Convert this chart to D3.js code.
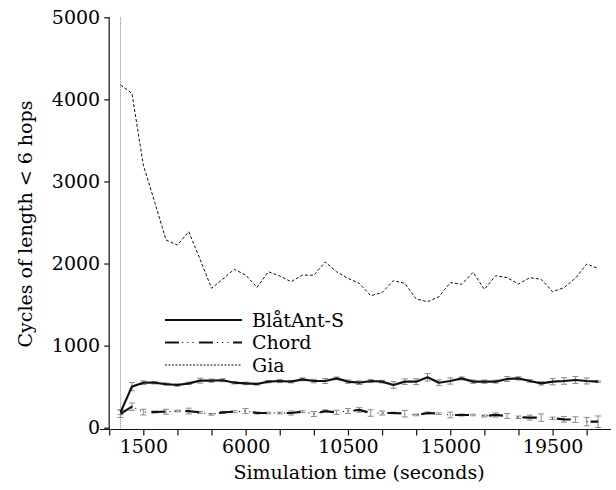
<!DOCTYPE html>
<html>
<head>
<meta charset="utf-8">
<script src="https://cdn.jsdelivr.net/npm/d3@7"></script>
<style>
  html, body { margin: 0; padding: 0; background: #fff; }
  svg { display: block; }
  text { font-family: "DejaVu Serif", serif; fill: #000; }
</style>
</head>
<body>
<svg id="chart" width="616" height="490"></svg>
<script>
// Simulation time (seconds), sampled every 500 s
const times = d3.range(500, 21501, 500);

// Cycles of length < 6 hops, per overlay
const blatantValues = [190, 500, 548, 548, 532, 520, 540, 573, 573, 578, 548, 540, 532, 561,
  569, 561, 589, 569, 569, 601, 561, 548, 569, 561, 520, 561, 561, 614, 548, 569, 601, 561,
  561, 561, 593, 601, 569, 540, 561, 569, 581, 569, 561];
const blatantErrors = [30, 50, 22, 15, 12, 15, 14, 30, 20, 18, 15, 15, 12, 14,
  20, 15, 18, 22, 30, 16, 20, 22, 20, 16, 40, 34, 35, 45, 35, 38, 18, 20,
  20, 18, 30, 20, 16, 20, 38, 40, 42, 36, 10];

const chordValues = [170, 256, 190, 191, 195, 203, 203, 187, 163, 187, 195, 203, 179, 179,
  179, 179, 195, 167, 203, 187, 203, 216, 179, 179, 179, 171, 155, 179, 171, 155, 155, 155,
  143, 155, 143, 127, 123, 123, 114, 102, 98, 73, 73];
const chordErrors = [45, 45, 35, 12, 30, 10, 35, 12, 10, 12, 12, 30, 12, 10,
  10, 25, 12, 30, 14, 25, 30, 28, 40, 25, 10, 40, 10, 12, 10, 35, 12, 10,
  12, 25, 30, 15, 30, 45, 15, 35, 35, 50, 70];

const giaValues = [4175, 4074, 3200, 2750, 2287, 2225, 2388, 2050, 1698, 1812, 1930, 1860,
  1710, 1900, 1848, 1779, 1860, 1857, 2019, 1900, 1820, 1759, 1608, 1645, 1791, 1759, 1568,
  1535, 1596, 1767, 1747, 1893, 1686, 1852, 1828, 1751, 1828, 1808, 1657, 1706, 1820, 1994, 1942];

const xTicks = d3.range(0, 21001, 1500);
const xLabelled = [1500, 6000, 10500, 15000, 19500];
const yTicks = [0, 1000, 2000, 3000, 4000, 5000];
const seriesNames = ["BlåtAnt-S", "Chord", "Gia"];
const startTime = 500;

const svg = d3.select("#chart");
const x = d3.scaleLinear().domain([0, 21000]).range([109.2, 586.7]);
const y = d3.scaleLinear().domain([0, 5000]).range([427.7, 17.3]);
const fontSize = 19;

// Vertical marker at the start of the measurements
svg.append("line")
  .attr("x1", x(startTime)).attr("x2", x(startTime))
  .attr("y1", y(5000)).attr("y2", y(0) + 2)
  .attr("stroke", "#777").attr("stroke-width", 1)
  .attr("stroke-dasharray", "1,1");

// Axes
const yAxis = svg.append("g")
  .attr("transform", `translate(${x(0)},0)`)
  .call(d3.axisLeft(y).tickValues(yTicks).tickSize(5).tickPadding(4).tickFormat(d3.format("d")));
yAxis.select(".domain").attr("d", `M0,${y(5000)}V${y(0) + 1.5}`).attr("stroke", "#111").attr("stroke-width", 1.2);
yAxis.selectAll(".tick line").attr("stroke", "#111").attr("stroke-width", 1.2);
yAxis.selectAll("text").style("font-size", fontSize + "px").attr("fill", "#000");

const axisY = 429.5;
const xAxis = svg.append("g")
  .attr("transform", `translate(0,${axisY})`)
  .call(d3.axisBottom(x).tickValues(xTicks).tickSize(6).tickPadding(4)
    .tickFormat(d => xLabelled.includes(d) ? d3.format("d")(d) : ""));
xAxis.select(".domain").attr("d", "M100,0H611").attr("stroke", "#111").attr("stroke-width", 1.2);
xAxis.selectAll(".tick line").attr("stroke", "#111").attr("stroke-width", 1.2);
xAxis.selectAll("text").style("font-size", fontSize + "px").attr("fill", "#000");

// Axis titles
svg.append("text")
  .attr("x", 359).attr("y", 479)
  .attr("text-anchor", "middle")
  .style("font-size", fontSize + "px")
  .text("Simulation time (seconds)");
svg.append("text")
  .attr("transform", "translate(32,224) rotate(-90)")
  .attr("text-anchor", "middle")
  .style("font-size", fontSize + "px")
  .text("Cycles of length < 6 hops");

const line = d3.line().x(d => x(d.t)).y(d => y(d.v));
const toPoints = (vals, errs) => vals.map((v, i) => ({ t: times[i], v, e: errs ? errs[i] : 0 }));

const blatant = toPoints(blatantValues, blatantErrors);
const chord = toPoints(chordValues, chordErrors);
const gia = toPoints(giaValues);

// Error bars
function errorBars(points, cls) {
  const g = svg.append("g").attr("class", cls)
    .attr("stroke", "#8a8a8a").attr("stroke-width", 1).attr("fill", "none");
  const cap = 3;
  g.selectAll("path").data(points).join("path")
    .attr("d", d => {
      const cx = x(d.t), y1 = y(d.v + d.e), y2 = y(d.v - d.e);
      return `M${cx},${y1}V${y2}M${cx - cap},${y1}H${cx + cap}M${cx - cap},${y2}H${cx + cap}`;
    });
}
errorBars(chord, "chord-err");
errorBars(blatant, "blatant-err");

// Gia: thin dashed
svg.append("path").datum(gia).attr("d", line)
  .attr("fill", "none").attr("stroke", "#111").attr("stroke-width", 1)
  .attr("stroke-dasharray", "3,2");

// Chord: thick dash followed by thin dots
function chordStroke(sel) {
  sel.append("path").attr("fill", "none").attr("stroke", "#111").attr("stroke-width", 2.2)
    .attr("stroke-dasharray", "14,20");
  sel.append("path").attr("fill", "none").attr("stroke", "#111").attr("stroke-width", 1)
    .attr("stroke-dasharray", "0,17,1.2,4,1.2,4,1.2,6.4");
}
const chordG = svg.append("g");
chordStroke(chordG);
chordG.selectAll("path").datum(chord).attr("d", line);

// BlåtAnt-S: solid
svg.append("path").datum(blatant).attr("d", line)
  .attr("fill", "none").attr("stroke", "#111").attr("stroke-width", 2.2)
  .attr("stroke-linejoin", "round");

// Legend
const legend = svg.append("g");
const rows = [320, 342.5, 365];
const lx1 = 165, lx2 = 242;
legend.append("line").attr("x1", lx1).attr("x2", lx2).attr("y1", rows[0]).attr("y2", rows[0])
  .attr("stroke", "#111").attr("stroke-width", 2.2);
const lg = legend.append("g");
chordStroke(lg);
lg.selectAll("path").attr("d", `M${lx1},${rows[1]}H${lx2}`);
legend.append("line").attr("x1", lx1).attr("x2", lx2).attr("y1", rows[2]).attr("y2", rows[2])
  .attr("stroke", "#111").attr("stroke-width", 1).attr("stroke-dasharray", "2,1.5");
legend.selectAll("text").data(seriesNames).join("text")
  .attr("x", 252).attr("y", (d, i) => rows[i] + 6.5)
  .style("font-size", fontSize + "px")
  .text(d => d);
</script>
</body>
</html>
